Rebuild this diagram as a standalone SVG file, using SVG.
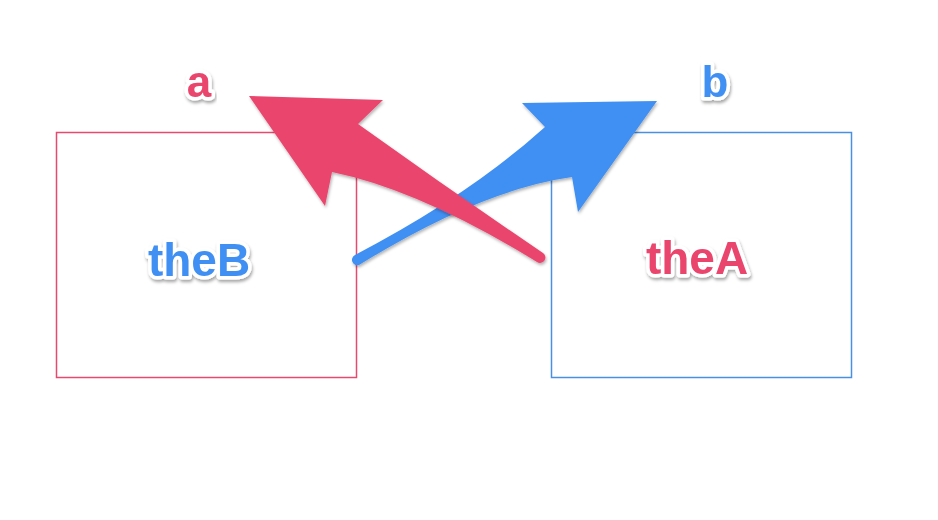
<svg xmlns="http://www.w3.org/2000/svg" width="938" height="520" viewBox="0 0 938 520">
<defs>
<filter id="ts" x="-20%" y="-30%" width="140%" height="160%">
<feDropShadow dx="1" dy="2.5" stdDeviation="1.5" flood-color="#000" flood-opacity="0.35"/>
</filter>
<filter id="as" x="-10%" y="-10%" width="120%" height="120%">
<feDropShadow dx="1" dy="2" stdDeviation="1.5" flood-color="#000" flood-opacity="0.3"/>
</filter>
</defs>
<style>
.lbl{font-family:"Liberation Sans",Arial,sans-serif;font-weight:bold;text-anchor:middle;stroke:#fff;stroke-width:7;stroke-linejoin:round;paint-order:stroke;filter:url(#ts)}
.red{fill:#EA456D}
.blue{fill:#3F8FF2}
.box{fill:none;stroke-width:1.5}
</style>
<rect width="938" height="520" fill="#fff"/>
<g id="theB">
<rect class="box" x="56.5" y="132.5" width="300" height="245" stroke="#E84A6F"/>
<text class="lbl blue" x="199" y="276" font-size="46">theB</text>
</g>
<g id="theA">
<rect class="box" x="551.5" y="132.5" width="300" height="245" stroke="#4A90E2"/>
<text class="lbl red" x="697" y="274" font-size="46">theA</text>
</g>
<g id="connectors">
<path class="blue" filter="url(#as)" d="M 355,255 Q 470,195 545,127 L 522,103 L 657,101 L 578,212 L 572,177 Q 480,190 359,265 A 5.4 5.4 0 0 1 355,255 Z"/>
<path class="red" filter="url(#as)" d="M 543,253 Q 450,190 358,124 L 383,100 L 249,96 L 325,206 L 332,172 Q 420,190 537,262 A 5.4 5.4 0 0 0 543,253 Z"/>
<text class="lbl red" x="199" y="97" font-size="44">a</text>
<text class="lbl blue" x="715" y="97" font-size="44">b</text>
</g>
</svg>
